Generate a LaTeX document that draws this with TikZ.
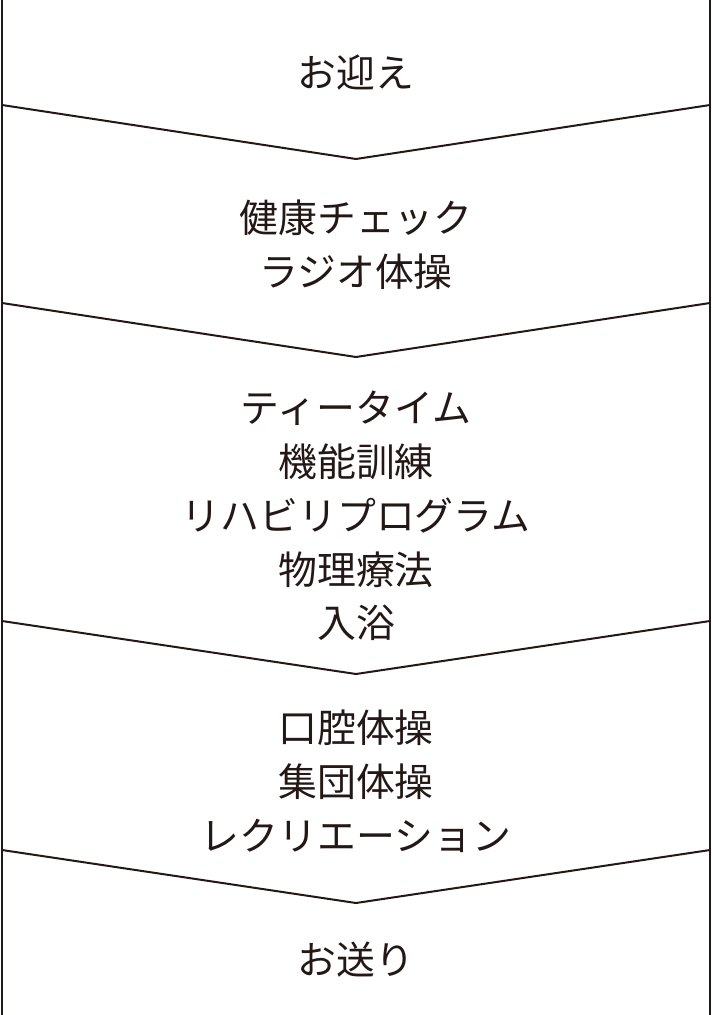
\documentclass[tikz,border=0pt]{standalone}
\usepackage{fontspec}
\newfontfamily\jpfont{Noto Sans CJK JP}
\usetikzlibrary{positioning}
\definecolor{ink}{RGB}{35, 24, 21}

\begin{document}
\begin{tikzpicture}[
        x=1bp, y=-1bp,
        every node/.style={
            text=ink,
            align=center,
            font=\jpfont\fontsize{39}{54}\selectfont
        },
        rail/.style={draw=ink, line width=2bp},
        chevron/.style={draw=ink, line width=2bp, line join=miter}
    ]
    \useasboundingbox (0,0) rectangle (712,1015);

    % side rails
    \draw[rail] (2,0) -- (2,1015);
    \draw[rail] (710,0) -- (710,1015);

    % chevrons between the steps
    \foreach \top/\tip in {105/159, 303/357, 621/674, 850/903}{
        \draw[chevron] (2,\top) -- (356,\tip) -- (710,\top);
    }

    % steps
    \node (welcome) at (356,73) {お迎え};
    \node (check) at (356,245) {健康チェック\\ラジオ体操};
    \node (program) at (356,516) {ティータイム\\機能訓練\\リハビリプログラム\\物理療法\\入浴};
    \node (group) at (356,781) {口腔体操\\集団体操\\レクリエーション};
    \node (farewell) at (356,960) {お送り};
\end{tikzpicture}
\end{document}
